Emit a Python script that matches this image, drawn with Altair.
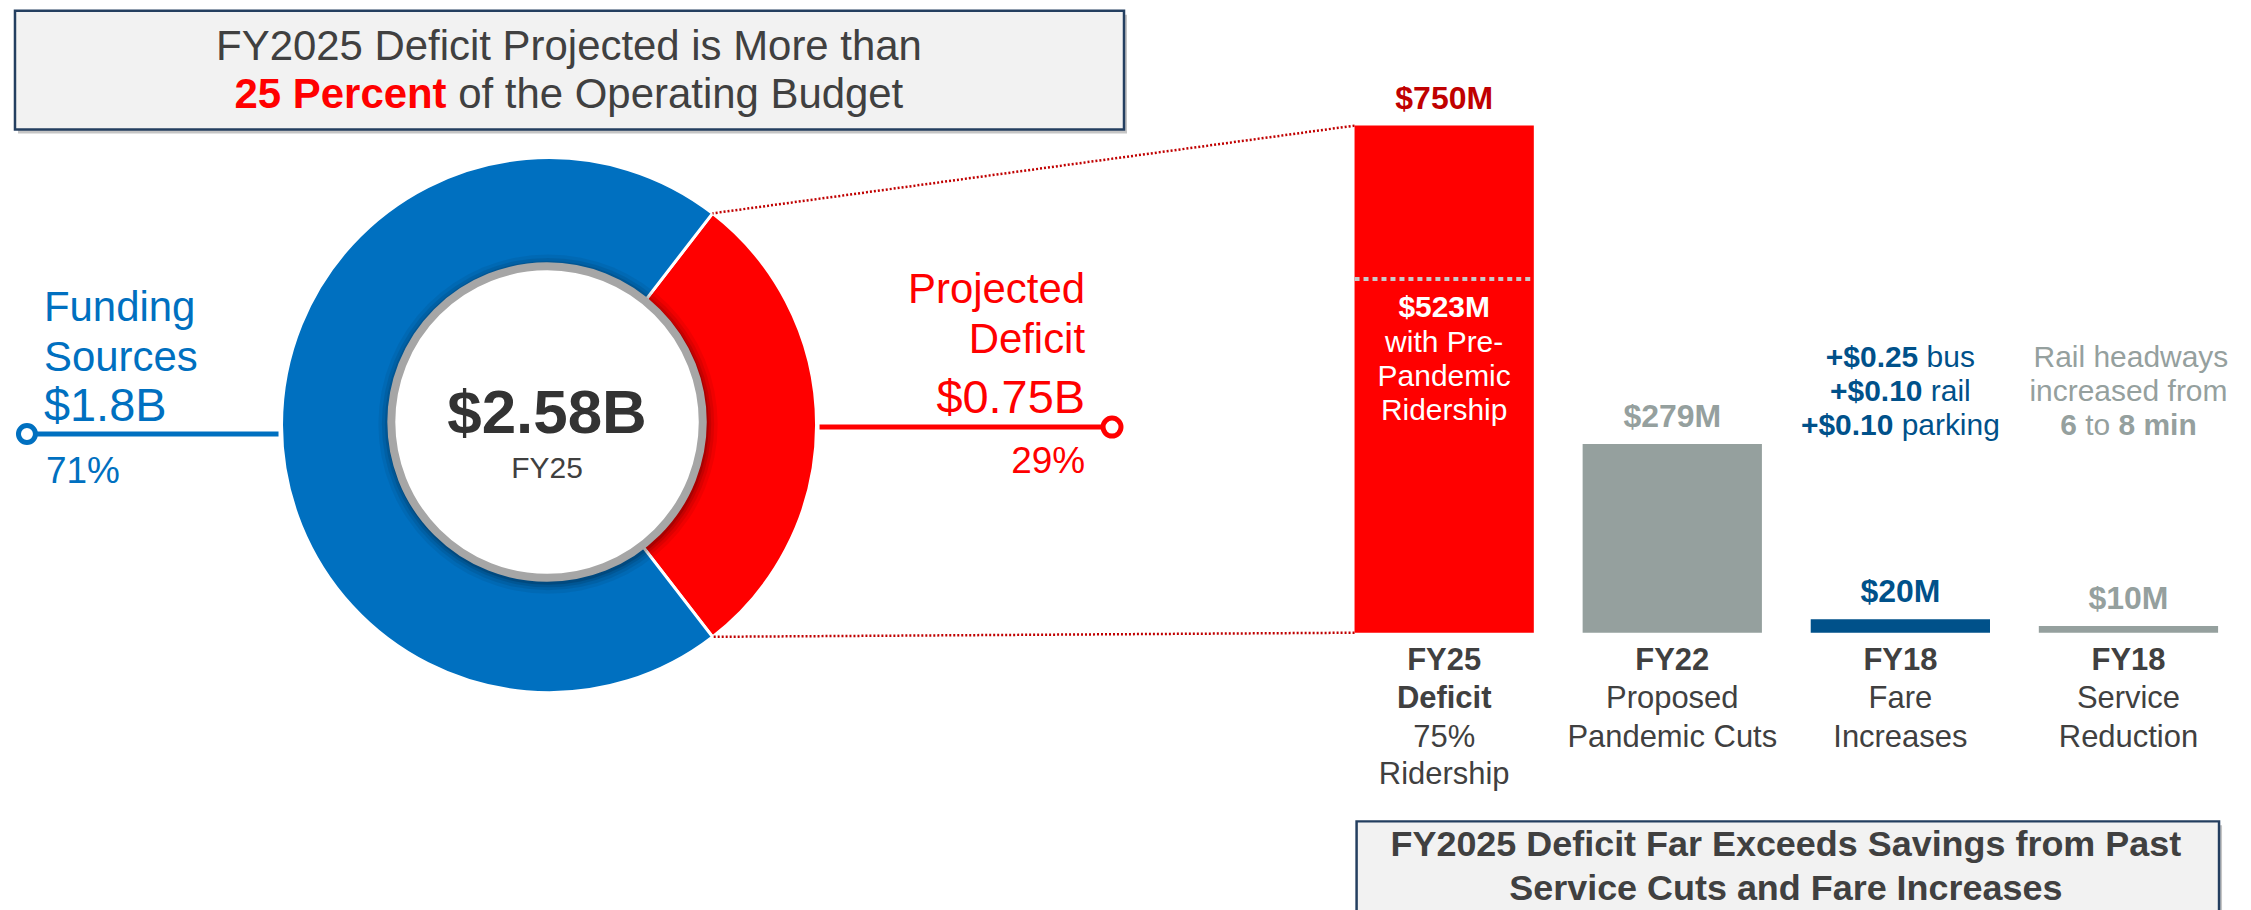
import math
import altair as alt
import pandas as pd

# ---------------- data ----------------
donut_parts = ["Projected Deficit", "Funding Sources"]
donut_values = [0.75, 1.83]          # $B
donut_amount_labels = ["$0.75B", "$1.8B"]
donut_pct_labels = ["29%", "71%"]
donut_total_label = "$2.58B"
donut_year_label = "FY25"

bar_keys = ["FY25 Deficit", "FY22 Cuts", "FY18 Fare", "FY18 Service"]
bar_values = [750, 279, 20, 10]      # $M
bar_value_labels = ["$750M", "$279M", "$20M", "$10M"]
pre_pandemic_value = 523
pre_pandemic_lines = ["$523M", "with Pre-", "Pandemic", "Ridership"]

caption_lines = [
    [("FY25", True), ("Deficit", True), ("75%", False), ("Ridership", False)],
    [("FY22", True), ("Proposed", False), ("Pandemic Cuts", False)],
    [("FY18", True), ("Fare", False), ("Increases", False)],
    [("FY18", True), ("Service", False), ("Reduction", False)],
]
fare_lines = [
    [("+$0.25", True), (" bus", False)],
    [("+$0.10", True), (" rail", False)],
    [("+$0.10", True), (" parking", False)],
]
rail_lines = [
    [("Rail headways", False)],
    [("increased from", False)],
    [("6", True), (" to ", False), ("8 min", True)],
]
title_line1 = "FY2025 Deficit Projected is More than"
title_line2 = [("25 Percent", True), (" of the Operating Budget", False)]
bottom_lines = ["FY2025 Deficit Far Exceeds Savings from Past",
                "Service Cuts and Fare Increases"]

# ---------------- styles ----------------
FONT = "Liberation Sans"
RED = "#FF0000"
DARKRED = "#C00000"
BLUE = "#0070C0"
NAVY = "#00518A"
GRAY = "#95A09E"
TXT = "#404040"
BOXFILL = "#F2F2F2"
BOXLINE = "#243F60"
bar_colors = [RED, GRAY, NAVY, GRAY]
label_colors = [DARKRED, GRAY, NAVY, GRAY]

W, H = 2235, 894


def px(v):
    return v - 8


R = {' ': 278, '+': 584, '$': 556, '.': 278, '%': 889, '-': 333, 'a': 556, 'b': 556,
     'c': 500, 'd': 556, 'e': 556, 'f': 278, 'g': 556, 'h': 556, 'i': 222, 'j': 222,
     'k': 500, 'l': 222, 'm': 833, 'n': 556, 'o': 556, 'p': 556, 'r': 333, 's': 500,
     't': 278, 'u': 556, 'v': 500, 'w': 722, 'y': 500, 'B': 667, 'O': 778, 'P': 667}
BW = {' ': 278, '+': 584, '$': 556, '.': 278, '%': 889, 'P': 667, 'e': 556, 'r': 389,
      'c': 556, 'n': 611, 't': 333, 'm': 889, 'i': 278}


def tw(s, bold, size):
    table = BW if bold else R
    return sum(table.get(ch, 556) for ch in s) * size / 1000.0


def layout(segs, size):
    widths = [tw(t, b, size) for t, b in segs]
    x = -sum(widths) / 2
    out = []
    for (t, b), w in zip(segs, widths):
        lead = len(t) - len(t.lstrip(' '))
        out.append((t.strip(), b, x + lead * 0.278 * size))
        x += w
    return out


one = pd.DataFrame({"a": [0]})


def txt(text, x, y, size, color, bold=False, align="center", baseline="middle"):
    return alt.Chart(one).mark_text(
        text=text, font=FONT, fontSize=size, fontWeight="bold" if bold else "normal",
        color=color, align=align, baseline=baseline
    ).encode(x=alt.value(px(x)), y=alt.value(px(y)))


def box(x1, y1, x2, y2):
    shadow = alt.Chart(one).mark_rect(fill="#7F7F7F", opacity=0.45).encode(
        x=alt.value(px(x1 + 3)), x2=alt.value(px(x2 + 3)),
        y=alt.value(px(y1 + 4)), y2=alt.value(px(y2 + 4)))
    rect = alt.Chart(one).mark_rect(fill=BOXFILL, stroke=BOXLINE, strokeWidth=2.5).encode(
        x=alt.value(px(x1)), x2=alt.value(px(x2)),
        y=alt.value(px(y1)), y2=alt.value(px(y2)))
    return [shadow, rect]


def circle(x, y, diameter, **style):
    return alt.Chart(one).mark_point(shape="circle", size=diameter ** 2, **style).encode(
        x=alt.value(px(x)), y=alt.value(px(y)))


layers = []

# ---------------- title box ----------------
layers += box(11, 9, 1122, 128)
layers.append(txt(title_line1, 566, 45, 42, TXT))
for t, b, dx in layout(title_line2, 42):
    layers.append(txt(t, 566 + dx, 93, 42, RED if b else TXT, bold=b, align="left"))

# ---------------- donut ----------------
CX, CY = 546, 424
R_OUT, R_IN = 268, 150
frac = donut_values[0] / sum(donut_values)
start = math.pi / 2 - frac * math.pi
donut_df = pd.DataFrame({"part": donut_parts, "value": donut_values,
                         "ord": list(range(len(donut_parts)))})
layers.append(
    alt.Chart(donut_df).mark_arc(outerRadius=R_OUT, innerRadius=R_IN,
                                 stroke="white", strokeWidth=3).encode(
        theta=alt.Theta("value:Q", stack=True,
                        scale=alt.Scale(range=[start, start + 2 * math.pi])),
        order=alt.Order("ord:Q"),
        color=alt.Color("part:N", scale=alt.Scale(domain=donut_parts, range=[RED, BLUE]),
                        legend=None),
        x=alt.value(px(CX)), y=alt.value(px(CY)))
)
# soft shadow around the inner ring
for d, op in [(340, 0.06), (333, 0.08), (327, 0.10), (322, 0.14)]:
    layers.append(circle(CX - 1, CY - 1, d, filled=True, fill="#000000", opacity=op,
                         strokeWidth=0))
# inner ring
layers.append(circle(CX - 2, CY - 3, 312, filled=True, fill="white", fillOpacity=1,
                     stroke="#A6A6A6", strokeOpacity=1, strokeWidth=8, opacity=1))
layers.append(txt(donut_total_label, CX - 2, 413, 62, "#333333", bold=True))
layers.append(txt(donut_year_label, CX - 2, 468, 30, TXT))

# funding sources label
layers.append(txt("Funding", 40, 320, 42, BLUE, align="left", baseline="alphabetic"))
layers.append(txt("Sources", 40, 370, 42, BLUE, align="left", baseline="alphabetic"))
layers.append(txt(donut_amount_labels[1], 40, 420, 47, BLUE, align="left", baseline="alphabetic"))
layers.append(txt(donut_pct_labels[1], 42, 482, 37, BLUE, align="left", baseline="alphabetic"))
layers.append(alt.Chart(one).mark_rule(color=BLUE, strokeWidth=5).encode(
    x=alt.value(px(23)), x2=alt.value(px(275)), y=alt.value(px(433))))
layers.append(circle(23, 433, 17, filled=True, fill="white", fillOpacity=1, stroke=BLUE,
                     strokeWidth=5, opacity=1))

# projected deficit label
layers.append(txt("Projected", 1083, 302, 42, RED, align="right", baseline="alphabetic"))
layers.append(txt("Deficit", 1083, 352, 42, RED, align="right", baseline="alphabetic"))
layers.append(txt(donut_amount_labels[0], 1083, 412, 47, RED, align="right", baseline="alphabetic"))
layers.append(txt(donut_pct_labels[0], 1083, 472, 37, RED, align="right", baseline="alphabetic"))
layers.append(alt.Chart(one).mark_rule(color=RED, strokeWidth=5).encode(
    x=alt.value(px(817)), x2=alt.value(px(1110)), y=alt.value(px(426))))
layers.append(circle(1110, 426, 18, filled=True, fill="white", fillOpacity=1, stroke=RED,
                     strokeWidth=5, opacity=1))

# ---------------- bars ----------------
xscale = alt.Scale(domain=bar_keys, range=[px(1328.5), px(2242.5)],
                   paddingInner=0.214, paddingOuter=0.107)
yscale = alt.Scale(domain=[0, 750], range=[px(632), px(124)], nice=False, zero=True)
X = alt.X("key:N", scale=xscale, axis=None, sort=bar_keys)
Y = alt.Y("value:Q", scale=yscale, axis=None)

bar_df = pd.DataFrame({"key": bar_keys, "value": bar_values, "label": bar_value_labels})

# connectors from donut deficit slice to the FY25 bar
tx = CX + R_OUT * math.sin(start)
ty_top = CY - R_OUT * math.cos(start)
ty_bot = CY - R_OUT * math.cos(start + 2 * math.pi * frac)
conn_df = pd.DataFrame({"key": [bar_keys[0], bar_keys[0]], "value": [bar_values[0], 0],
                        "sx": [px(tx), px(tx)], "sy": [px(ty_top), px(ty_bot)]})
for i in range(2):
    layers.append(alt.Chart(conn_df.iloc[[i]]).mark_rule(
        color=DARKRED, strokeWidth=2.5, strokeDash=[2, 2]).encode(
        x=alt.X("key:N", scale=xscale, axis=None, sort=bar_keys, bandPosition=0),
        y=Y, x2=alt.value(float(conn_df["sx"][i])), y2=alt.value(float(conn_df["sy"][i]))))

layers.append(alt.Chart(bar_df).mark_bar().encode(
    x=X, y=Y,
    color=alt.Color("key:N", scale=alt.Scale(domain=bar_keys, range=bar_colors), legend=None)))

layers.append(alt.Chart(bar_df).mark_text(font=FONT, fontSize=32, fontWeight="bold",
                                          baseline="middle", dy=-27).encode(
    x=X, y=Y, text="label:N",
    color=alt.Color("key:N", scale=alt.Scale(domain=bar_keys, range=label_colors), legend=None)))

# pre-pandemic marker inside FY25 bar
pre_df = pd.DataFrame({"key": [bar_keys[0]], "value": [pre_pandemic_value]})
layers.append(alt.Chart(pre_df).mark_rule(color="#C9C9C9", strokeWidth=4,
                                          strokeDash=[5, 4]).encode(
    x=alt.X("key:N", scale=xscale, axis=None, sort=bar_keys, bandPosition=0),
    x2=alt.X2("key:N", bandPosition=1), y=Y))


def band_txt(key, text, y, size, color, bold=False, dx=0.0, align="center"):
    return alt.Chart(pd.DataFrame({"key": [key]})).mark_text(
        text=text, font=FONT, fontSize=size, fontWeight="bold" if bold else "normal",
        color=color, align=align, baseline="middle", dx=dx
    ).encode(x=X, y=alt.value(px(y)))


pre_y = [307, 342, 376, 410]
for i, line in enumerate(pre_pandemic_lines):
    layers.append(band_txt(bar_keys[0], line, pre_y[i], 30, "white", bold=(i == 0)))

# captions under bars
cap_y = [660, 698, 737, 775]
for key, lines in zip(bar_keys, caption_lines):
    for i, (t, b) in enumerate(lines):
        layers.append(band_txt(key, t, cap_y[i], 31, TXT, bold=b))

# fare / service annotations
ann_y = [357, 391, 425]
for i, segs in enumerate(fare_lines):
    for t, b, dx in layout(segs, 30):
        layers.append(band_txt(bar_keys[2], t, ann_y[i], 30, NAVY, bold=b, dx=dx, align="left"))
for i, segs in enumerate(rail_lines):
    for t, b, dx in layout(segs, 30):
        layers.append(band_txt(bar_keys[3], t, ann_y[i], 30, GRAY, bold=b, dx=dx, align="left"))

# ---------------- bottom box ----------------
layers += box(1355, 821, 2219, 930)
layers.append(txt(bottom_lines[0], 1785, 845, 36, TXT, bold=True))
layers.append(txt(bottom_lines[1], 1785, 889, 36, TXT, bold=True))

chart = alt.layer(*layers).resolve_scale(color="independent").properties(
    width=W, height=H, padding=0
).configure_view(strokeWidth=0)

chart.save("out.html", embed_options={"renderer": "svg", "actions": False})
